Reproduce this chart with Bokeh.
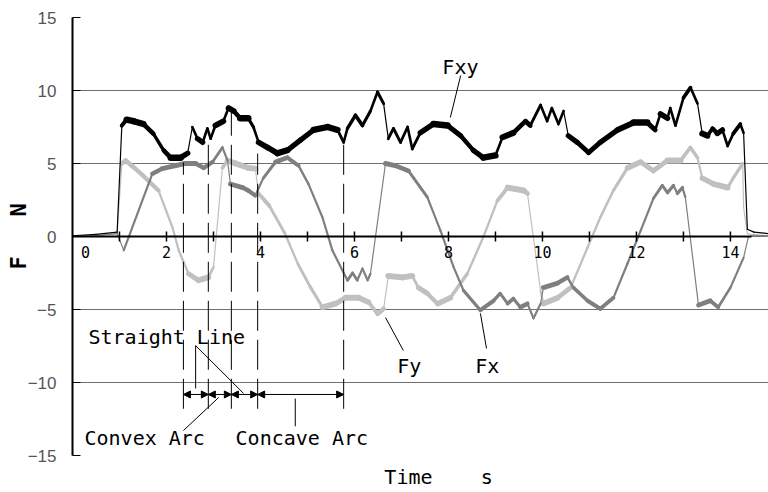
import math
from bokeh.plotting import figure
from bokeh.models import (Range1d, FixedTicker, ColumnDataSource, Arrow, NormalHead)
from bokeh.core.properties import value
from bokeh.embed import file_html
from bokeh.resources import INLINE

# ---------------- data ----------------
fxy_t = [0, 0.5, 0.95, 1.05, 1.15, 1.30, 1.51, 1.72, 1.94, 2.09, 2.30, 2.45, 2.55, 2.66, 2.77, 2.87, 2.94,
         3.04, 3.21, 3.32, 3.43, 3.57, 3.74, 3.85, 3.96, 4.15, 4.36, 4.57, 4.85, 5.13, 5.43, 5.64, 5.77,
         5.85, 6.02, 6.17, 6.34, 6.49, 6.62, 6.72, 6.83, 6.98, 7.13, 7.23, 7.40, 7.68, 7.98, 8.26, 8.53,
         8.74, 9.00, 9.15, 9.38, 9.64, 9.74, 9.96, 10.10, 10.20, 10.34, 10.45, 10.55, 10.74, 10.98, 11.23,
         11.60, 11.94, 12.23, 12.40, 12.51, 12.66, 12.72, 12.83, 13.00, 13.15, 13.30, 13.40, 13.51, 13.62,
         13.72, 13.83, 13.94, 14.06, 14.21, 14.28, 14.36, 14.50, 14.81]
fxy_f = [0.05, 0.15, 0.3, 7.6, 8.0, 7.9, 7.7, 7.05, 5.9, 5.4, 5.4, 5.7, 7.5, 6.7, 6.45, 7.4, 6.7,
         7.6, 7.9, 8.8, 8.6, 8.1, 8.1, 7.5, 6.45, 6.1, 5.7, 5.9, 6.6, 7.3, 7.5, 7.3, 6.45,
         7.4, 8.3, 7.6, 8.6, 9.9, 9.1, 6.7, 7.4, 6.45, 7.5, 6.0, 7.1, 7.7, 7.6, 6.9, 5.9,
         5.4, 5.55, 6.8, 7.1, 7.9, 7.6, 9.0, 7.9, 8.8, 7.7, 8.6, 6.9, 6.45, 5.75, 6.45,
         7.3, 7.8, 7.8, 7.3, 8.4, 8.1, 8.8, 7.6, 9.5, 10.2, 9.1, 7.05, 6.9, 7.4,
         7.05, 7.3, 6.2, 7.05, 7.7, 7.1, 0.5, 0.3, 0.2]

fx_t = [0, 0.5, 0.95, 1.09, 1.70, 1.91, 2.19, 2.40, 2.62, 2.79, 2.98, 3.19, 3.30, 3.36, 3.62, 3.74, 3.89,
        3.96, 4.06, 4.32, 4.57, 4.81, 5.02, 5.32, 5.53, 5.74, 5.85, 5.96, 6.06, 6.17, 6.28, 6.34, 6.66,
        6.87, 7.15, 7.26, 7.55, 7.83, 8.11, 8.32, 8.68, 8.96, 9.10, 9.26, 9.38, 9.53, 9.68, 9.81, 9.96,
        10.02, 10.32, 10.53, 10.66, 10.96, 11.23, 11.51, 11.81, 12.09, 12.36, 12.55, 12.66, 12.79, 12.87,
        12.98, 13.04, 13.32, 13.57, 13.74, 14.00, 14.28, 14.38, 14.50, 14.81]
fx_f = [0, 0.05, 0.2, -0.95, 4.3, 4.65, 4.85, 5.0, 5.0, 4.7, 5.1, 6.1, 5.2, 3.6, 3.35, 3.15, 2.8,
        3.3, 4.0, 5.1, 5.4, 4.85, 3.6, 1.3, -0.95, -2.3, -3.0, -2.5, -3.0, -2.2, -3.0, -2.55, 5.0,
        4.85, 4.5, 4.0, 2.7, 0.4, -2.1, -3.7, -5.05, -4.4, -3.9, -4.6, -4.25, -4.85, -4.6, -5.6, -4.6,
        -3.5, -3.2, -2.8, -3.5, -4.4, -4.95, -4.2, -1.85, 0.4, 2.6, 3.5, 3.0, 3.5, 2.95,
        3.35, 2.7, -4.7, -4.4, -4.85, -3.5, -1.45, -0.05, 0.1, 0.05]

fy_t = [0, 0.5, 0.95, 1.05, 1.13, 1.28, 1.49, 1.83, 2.13, 2.26, 2.47, 2.68, 2.89, 3.00, 3.19, 3.30, 3.47,
        3.74, 3.89, 3.96, 4.19, 4.52, 4.80, 5.05, 5.32, 5.60, 5.81, 6.09, 6.30, 6.49, 6.62, 6.72, 7.02,
        7.23, 7.36, 7.55, 7.77, 8.04, 8.40, 8.74, 9.04, 9.26, 9.60, 9.68, 9.96, 10.02, 10.32, 10.60,
        10.96, 11.23, 11.51, 11.81, 12.09, 12.36, 12.66, 12.94, 13.15, 13.30, 13.40, 13.64, 13.94,
        14.06, 14.26, 14.28, 14.36, 14.50, 14.81]
fy_f = [0, 0.05, 0.2, 5.0, 5.2, 4.8, 4.2, 3.15, 0.6, -0.95, -2.55, -3.0, -2.8, -2.1, 4.7, 5.2, 5.0,
        4.7, 4.65, 2.95, 2.1, 0.2, -1.9, -3.4, -4.85, -4.6, -4.2, -4.2, -4.5, -5.3, -4.95, -2.7, -2.8,
        -2.7, -3.5, -3.9, -4.6, -4.2, -2.55, -0.05, 2.45, 3.35, 3.15, 2.95, -3.7, -4.6, -4.2, -3.5,
        -0.75, 1.3, 3.15, 4.7, 5.1, 4.5, 5.2, 5.2, 6.1, 5.4, 4.0, 3.6, 3.35,
        4.0, 5.0, 2.0, 0.2, 0.1, 0.05]

# period during which the tool is moving (signal carries vibration noise)
MOTION_START, MOTION_END = 1.0, 14.3

x_ticks = list(range(1, 15))
x_tick_labels = ["0", "2", "4", "6", "8", "10", "12", "14"]
x_label_pos = [0, 2, 4, 6, 8, 10, 12, 14]
y_ticks = [-15, -10, -5, 0, 5, 10, 15]
y_tick_labels = ["\u221215", "\u221210", "\u22125", "0", "5", "10", "15"]

NB = "\u00a0"
x_title = NB * 3 + "Time" + NB * 4 + "s"
y_title = "F" + NB * 3 + "N"

# segment boundaries (s) and annotation texts
seg_bounds = [2.36, 2.89, 3.38, 3.94, 5.77]
seg_tops = [5.07, 6.78, 8.63, 5.68, 6.58]
seg_bottoms = [-11.8, -11.8, -11.8, -11.8, -11.8]
arrow_level = -10.82

ann_text = ["Fxy", "Fy", "Fx", "Straight Line", "Convex Arc", "Concave Arc"]
ann_x = [7.87, 6.91, 8.57, 0.34, 0.255, 3.47]
ann_y = [11.64, -8.84, -8.84, -6.85, -13.77, -13.77]

lead_x0 = [8.26, 7.04, 8.81, 2.62, 2.62, 2.36, 4.74]
lead_y0 = [11.03, -7.81, -7.67, -7.47, -7.47, -13.29, -11.1]
lead_x1 = [8.04, 6.66, 8.68, 2.62, 3.64, 3.11, 4.74]
lead_y1 = [8.15, -5.55, -5.27, -10.41, -10.75, -11.03, -13.0]

XMAX = 14.81
AXIS_X_END = 14.45

# ---------------- figure ----------------
W, H = 768, 492
ML, MR, MT, MB = 72, 0, 17, 37
p = figure(width=W, height=H, x_range=Range1d(0, XMAX), y_range=Range1d(-15, 15),
           output_backend="svg", toolbar_location=None,
           min_border_left=ML, min_border_right=MR, min_border_top=MT, min_border_bottom=MB)
p.outline_line_color = None
p.background_fill_color = "white"
p.border_fill_color = "white"
p.xgrid.visible = False
p.ygrid.ticker = FixedTicker(ticks=y_ticks)
p.ygrid.grid_line_color = "#707070"
p.ygrid.grid_line_width = 1

# bottom axis only carries the title (the drawn axis sits at F = 0)
xa = p.xaxis[0]
xa.ticker = FixedTicker(ticks=[])
xa.major_label_text_font_size = "0px"
xa.major_label_standoff = 0
xa.major_tick_in = 0
xa.major_tick_out = 0
xa.minor_tick_in = 0
xa.minor_tick_out = 0
xa.axis_line_color = None
xa.axis_label = x_title
xa.axis_label_text_font = "DejaVu Sans Mono"
xa.axis_label_text_font_size = "20px"
xa.axis_label_text_font_style = "normal"
xa.axis_label_text_color = "black"
xa.axis_label_standoff = 9

ya = p.yaxis[0]
ya.ticker = FixedTicker(ticks=y_ticks)
ya.major_label_overrides = {t: l for t, l in zip(y_ticks, y_tick_labels)}
ya.major_label_text_font = "Liberation Sans"
ya.major_label_text_font_size = "17px"
ya.major_label_text_color = "#555555"
ya.major_tick_in = 8
ya.major_tick_out = 0
ya.minor_tick_in = 0
ya.minor_tick_out = 0
ya.axis_line_width = 2
ya.axis_line_color = "black"
ya.major_label_standoff = 16
ya.axis_label = y_title
ya.axis_label_text_font = "DejaVu Sans Mono"
ya.axis_label_text_font_size = "22px"
ya.axis_label_text_font_style = "bold"
ya.axis_label_text_color = "black"
ya.axis_label_standoff = -6

# px per data unit for slope-dependent band width
sx = (W - ML - MR) / XMAX
sy = (H - MT - MB) / 30.0

def band(t, f, thick, minw, color):
    x0, y0, x1, y1, w = [], [], [], [], []
    for i in range(len(t) - 1):
        dx = (t[i + 1] - t[i]) * sx
        dy = (f[i + 1] - f[i]) * sy
        c = abs(dx) / math.hypot(dx, dy) if (dx or dy) else 1.0
        x0.append(t[i]); y0.append(f[i]); x1.append(t[i + 1]); y1.append(f[i + 1])
        moving = t[i] >= MOTION_START and t[i + 1] <= MOTION_END
        if not moving or c < 0.2:
            w.append(1.2)
        else:
            w.append(max(minw, thick * c))
    src = ColumnDataSource(dict(x0=x0, y0=y0, x1=x1, y1=y1, w=w))
    p.segment("x0", "y0", "x1", "y1", source=src, line_width="w", line_color=color, line_cap="round")

band(fy_t, fy_f, 6, 2.2, "#c0c0c0")
band(fx_t, fx_f, 5, 2.2, "#7f7f7f")
band(fxy_t, fxy_f, 6.5, 2.6, "black")

# x axis drawn at F = 0
p.line([0, AXIS_X_END], [0, 0], line_color="black", line_width=2)
p.segment(x0=x_ticks, y0=[-0.35] * len(x_ticks), x1=x_ticks, y1=[0.35] * len(x_ticks),
          line_color="black", line_width=1.5)
p.text(x=x_label_pos, y=[-1.05] * len(x_label_pos), text=x_tick_labels,
       x_offset=[13 if v == 0 else 0 for v in x_label_pos],
       text_font=value("DejaVu Sans Mono"), text_font_size=value("15px"),
       text_align="center", text_baseline="middle", text_color="black")

# segment boundaries
p.segment(x0=seg_bounds, y0=seg_bottoms, x1=seg_bounds, y1=seg_tops,
          line_color="black", line_width=1, line_dash="30 9")
asrc = ColumnDataSource(dict(xs=seg_bounds[:-1], xe=seg_bounds[1:],
                             ys=[arrow_level] * (len(seg_bounds) - 1),
                             ye=[arrow_level] * (len(seg_bounds) - 1)))
p.add_layout(Arrow(x_start="xs", y_start="ys", x_end="xe", y_end="ye", source=asrc,
                   line_color="black", line_width=1,
                   start=NormalHead(size=7, fill_color="black", line_color="black"),
                   end=NormalHead(size=7, fill_color="black", line_color="black")))

# leader lines and annotation texts
p.segment(x0=lead_x0, y0=lead_y0, x1=lead_x1, y1=lead_y1, line_color="black", line_width=1)
p.text(x=ann_x, y=ann_y, text=ann_text, text_font=value("DejaVu Sans Mono"),
       text_font_size=value("20px"), text_align="left", text_baseline="middle", text_color="black")

open("out.html", "w").write(file_html(p, INLINE))
